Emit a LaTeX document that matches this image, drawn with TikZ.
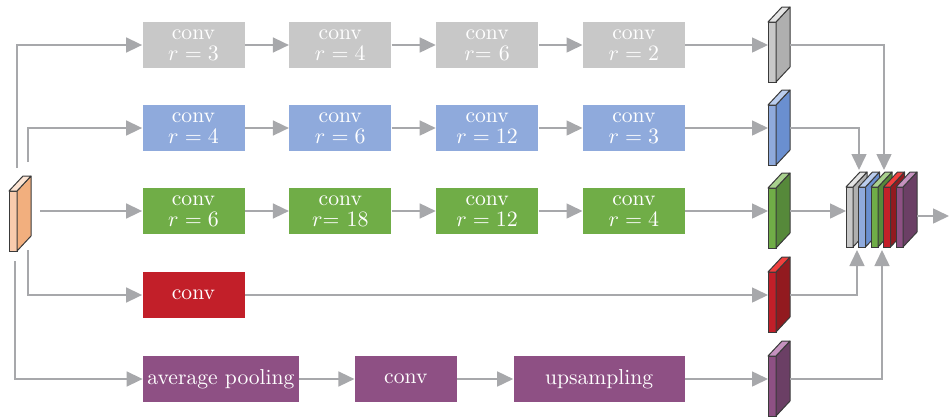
\documentclass[tikz,border=0pt]{standalone}
\usepackage{tikz}
\usetikzlibrary{arrows.meta,positioning,calc}
\definecolor{cLine}{HTML}{A7A8AB}
\definecolor{cEdge}{HTML}{3A3A3A}
\definecolor{cGrey}{HTML}{C8C8C8}
\definecolor{cGreyS}{HTML}{AFAFAF}
\definecolor{cGreyT}{HTML}{E4E4E4}
\definecolor{cBlue}{HTML}{8FAADC}
\definecolor{cBlueS}{HTML}{6A8FD0}
\definecolor{cBlueT}{HTML}{BACDEE}
\definecolor{cGreen}{HTML}{70AD47}
\definecolor{cGreenS}{HTML}{56893A}
\definecolor{cGreenT}{HTML}{A9D18E}
\definecolor{cRed}{HTML}{C21F29}
\definecolor{cRedS}{HTML}{921A1F}
\definecolor{cRedT}{HTML}{F0403E}
\definecolor{cPurp}{HTML}{8E5084}
\definecolor{cPurpS}{HTML}{6B3F65}
\definecolor{cPurpT}{HTML}{C592BF}
\definecolor{cOrng}{HTML}{F8CBAD}
\definecolor{cOrngS}{HTML}{F2AF7E}
\definecolor{cOrngT}{HTML}{FBE3D2}
\tikzset{
  box/.style={fill=#1, draw=none, text=white, align=center, inner sep=1pt,
              minimum width=51pt, minimum height=23pt,
              font=\fontsize{10.8}{10.5}\selectfont},
  grey/.style={box=cGrey},
  blue/.style={box=cBlue},
  green/.style={box=cGreen},
  red/.style={box=cRed},
  purp/.style={box=cPurp},
  slab/.style={draw=cEdge, line width=0.5pt, inner sep=0pt, outer sep=0pt,
               minimum width=4pt, minimum height=30pt},
  slabedge/.style={draw=cEdge, line width=0.5pt, line join=round},
  flow/.style={-{Triangle[length=8pt, width=7.5pt]}, line width=0.8pt, draw=cLine},
}
% feature map: name, position, front, side, top
\newcommand{\featmap}[5]{%
  \node[slab, fill=#3] (#1) at (#2) {};
  \draw[slabedge, fill=#4] (#1.north east) -- ++(14,-15)
    -- ($(#1.south east)+(14,-15)$) -- (#1.south east) -- cycle;
  \draw[slabedge, fill=#5] (#1.north west) -- ++(14,-15)
    -- ($(#1.north east)+(14,-15)$) -- (#1.north east) -- cycle;
  \coordinate (#1-out) at ($(#1.east)+(14,-7)$);
}

\begin{document}
\begin{tikzpicture}[x=0.5pt, y=-0.5pt, node distance=22pt]
  \useasboundingbox (0,0) rectangle (949,419);

  % input
  \featmap{in}{13,221}{cOrng}{cOrngS}{cOrngT}

  % atrous branches
  \node[grey] (g1) at (193.5,45) {conv\\$r=3$};
  \node[grey, right=of g1] (g2) {conv\\$r=4$};
  \node[grey, right=of g2] (g3) {conv\\$r$= $6$};
  \node[grey, right=of g3] (g4) {conv\\$r=2$};

  \node[blue] (b1) at (193.5,128) {conv\\$r=4$};
  \node[blue, right=of b1] (b2) {conv\\$r=6$};
  \node[blue, right=of b2] (b3) {conv\\$r=12$};
  \node[blue, right=of b3] (b4) {conv\\$r=3$};

  \node[green] (n1) at (193.5,211) {conv\\$r=6$};
  \node[green, right=of n1] (n2) {conv\\$r$= $18$};
  \node[green, right=of n2] (n3) {conv\\$r=12$};
  \node[green, right=of n3] (n4) {conv\\$r=4$};

  \node[red] (r1) at (193.5,295) {conv};

  \node[purp, minimum width=78pt] (p1) at (221,379) {average pooling};
  \node[purp, right=27.5pt of p1] (p2) {conv};
  \node[purp, minimum width=85.5pt, right=28pt of p2] (p3) {upsampling};

  % branch outputs
  \featmap{fg}{772,52}{cGrey}{cGreyS}{cGreyT}
  \featmap{fb}{772,135}{cBlue}{cBlueS}{cBlueT}
  \featmap{fn}{772,218}{cGreen}{cGreenS}{cGreenT}
  \featmap{fr}{772,302}{cRed}{cRedS}{cRedT}
  \featmap{fp}{772,386}{cPurp}{cPurpS}{cPurpT}

  % concatenation
  \tikzset{slab/.append style={minimum width=3.5pt}}
  \featmap{c1}{849.5,217}{cGrey}{cGreyS}{cGreyT}
  \featmap{c2}{862,217}{cBlue}{cBlueS}{cBlueT}
  \featmap{c3}{874.5,217}{cGreen}{cGreenS}{cGreenT}
  \featmap{c4}{887,217}{cRed}{cRedS}{cRedT}
  \featmap{c5}{899.5,217}{cPurp}{cPurpS}{cPurpT}
  \coordinate (outp) at (949,216);

  \draw[flow] ($(in.north east)+(0,-23)$) |- (g1.west);
  \draw[flow] ($(in.north east)+(11,-29)$) |- (b1.west);
  \draw[flow] ($(in.east)+(23,-10)$) -- (n1.west);
  \draw[flow] ($(in.south east)+(11,-1)$) |- (r1.west);
  \draw[flow] ($(in.south)+(2,10)$) |- (p1.west);

  \draw[flow] (g1) -- (g2);
  \draw[flow] (g2) -- (g3);
  \draw[flow] (g3) -- (g4);
  \draw[flow] (b1) -- (b2);
  \draw[flow] (b2) -- (b3);
  \draw[flow] (b3) -- (b4);
  \draw[flow] (n1) -- (n2);
  \draw[flow] (n2) -- (n3);
  \draw[flow] (n3) -- (n4);
  \draw[flow] (p1) -- (p2);
  \draw[flow] (p2) -- (p3);

  \draw[flow] (g4.east) -- (g4.east -| fg.west);
  \draw[flow] (b4.east) -- (b4.east -| fb.west);
  \draw[flow] (n4.east) -- (n4.east -| fn.west);
  \draw[flow] (r1.east) -- (r1.east -| fr.west);
  \draw[flow] (p3.east) -- (p3.east -| fp.west);

  \draw[flow] (fg-out) -| ($(c3.north east)+(6,-17)$);
  \draw[flow] (fb-out) -| ($(c1.north east)+(6,-17)$);
  \draw[flow] (fn-out) -- (fn-out -| c1.west);
  \draw[flow] (fr-out) -| ($(c1.south east)+(4,3)$);
  \draw[flow] (fp-out) -| ($(c3.south east)+(4,3)$);
  \draw[flow] ($(c5.east)+(14,-1)$) -- (outp);
\end{tikzpicture}
\end{document}
